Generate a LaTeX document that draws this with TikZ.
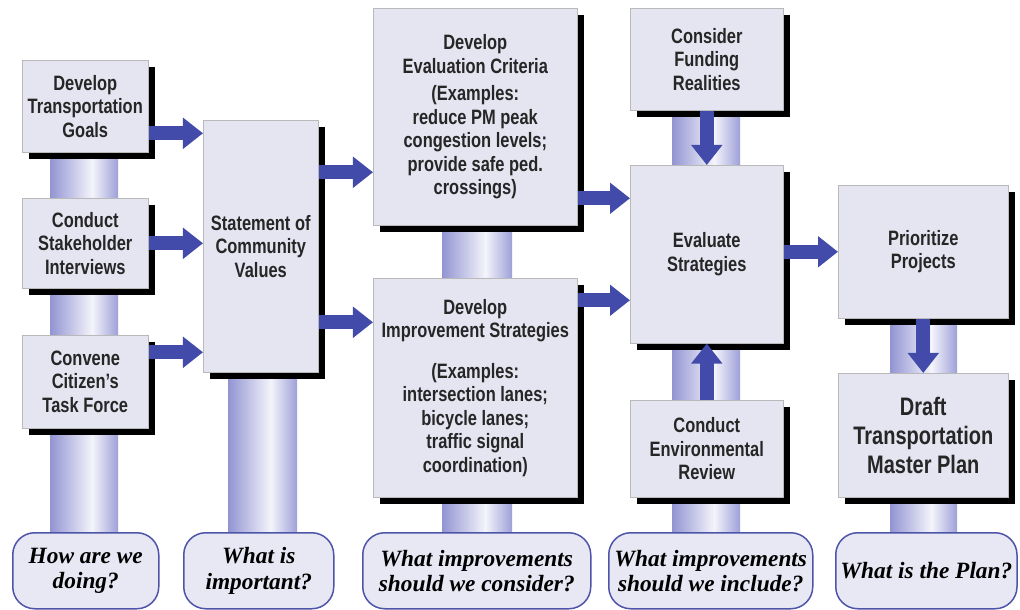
\documentclass[tikz,border=0pt]{standalone}
\usepackage{fontspec}
\setmainfont{Liberation Sans}[FakeStretch=0.79]
\newfontfamily\askfont{Liberation Serif}
\usetikzlibrary{positioning,arrows.meta,shadows,calc}

\newdimen\px \px=0.025cm

\definecolor{boxfill}{RGB}{229,229,241}
\definecolor{flowblue}{RGB}{66,74,170}
\definecolor{askblue}{RGB}{78,84,168}
\definecolor{askfill}{RGB}{232,232,245}
\definecolor{pillarL}{RGB}{146,148,210}
\definecolor{pillarM}{RGB}{244,244,251}
\definecolor{pillarR}{RGB}{158,160,216}

\tikzstyle{stepbox} = [draw=gray!55, line width=0.4pt, fill=boxfill,
                       anchor=north west, align=center, inner sep=1pt,
                       text=black!85,
                       font=\bfseries\fontsize{14.8}{16.7}\selectfont,
                       preaction={fill=black,
                                  transform canvas={xshift=0.18cm, yshift=-0.18cm}}]
\tikzstyle{ask}  = [draw=askblue, line width=1.5\px, fill=askfill,
                    rounded corners=22\px, anchor=north west, align=center,
                    font=\askfont\bfseries\itshape\fontsize{16.6}{18}\selectfont]
\tikzstyle{flow} = [draw=flowblue, line width=0.35cm,
                    -{Triangle[length=0.5cm, width=0.75cm]}]

\begin{document}
\begin{tikzpicture}[x=0.025cm, y=-0.025cm]

   \path[fill=white, use as bounding box] (0,0) rectangle (1020,610);

   % shaded pillars behind each column
   \foreach \xa/\xb/\ya in {50/118/150, 228/297/370, 442/512/222,
                            672/740/108, 890/957/316}
   {
     \shade[left color=pillarL, right color=pillarM]
       (\xa,\ya) rectangle ({\xa+0.62*(\xb-\xa)},533);
     \shade[left color=pillarM, right color=pillarR]
       ({\xa+0.62*(\xb-\xa)},\ya) rectangle (\xb,533);
   }

   % column 1
   \node[stepbox, minimum width=126\px, minimum height=92\px] (goals)
        at (22,60) {Develop\\Transportation\\Goals};
   \node[stepbox, minimum width=126\px, minimum height=90\px] (stake)
        at (22,198) {Conduct\\Stakeholder\\Interviews};
   \node[stepbox, minimum width=126\px, minimum height=93\px] (citizen)
        at (22,335) {Convene\\Citizen’s\\Task Force};

   % column 2
   \node[stepbox, minimum width=115\px, minimum height=252\px] (stmt)
        at (203,120) {Statement of\\Community\\Values};

   % column 3
   \node[stepbox, minimum width=204\px, minimum height=217\px] (crit)
        at (373,8) {Develop\\Evaluation Criteria\\[3pt](Examples:\\reduce PM peak\\congestion levels;\\provide safe ped.\\crossings)};
   \node[stepbox, minimum width=204\px, minimum height=219\px] (impr)
        at (373,278) {Develop\\Improvement Strategies\\[12pt](Examples:\\intersection lanes;\\bicycle lanes;\\traffic signal\\coordination)};

   % column 4
   \node[stepbox, minimum width=153\px, minimum height=102\px] (fund)
        at (630,8) {Consider\\Funding\\Realities};
   \node[stepbox, minimum width=153\px, minimum height=178\px] (evalst)
        at (630,165) {Evaluate\\Strategies};
   \node[stepbox, minimum width=153\px, minimum height=97\px] (env)
        at (630,400) {Conduct\\Environmental\\Review};

   % column 5
   \node[stepbox, minimum width=170\px, minimum height=133\px] (prio)
        at (838,185) {Prioritize\\Projects};
   \node[stepbox, minimum width=170\px, minimum height=124\px,
         font=\bfseries\fontsize{18}{20.5}\selectfont] (draft)
        at (838,373) {Draft\\Transportation\\Master Plan};

   % questions
   \node[ask, minimum width=146\px, minimum height=76\px] (q1)
        at (12,532) {How are we\\doing?};
   \node[ask, minimum width=150\px, minimum height=76\px] (q2)
        at (183,532) {What is\\important?};
   \node[ask, minimum width=228\px, minimum height=76\px] (q3)
        at (362,532) {What improvements\\should we consider?};
   \node[ask, minimum width=204\px, minimum height=76\px] (q4)
        at (608,532) {What improvements\\should we include?};
   \node[ask, minimum width=180\px, minimum height=76\px] (q5)
        at (835,532) {What is the Plan?};

   % flow arrows
   \draw[flow] ([yshift=-27\px]goals.east) -- ([yshift=-27\px]goals.east -| stmt.west);
   \draw[flow] (stake.east) -- (stake.east -| stmt.west);
   \draw[flow] ([yshift=29.5\px]citizen.east) -- ([yshift=29.5\px]citizen.east -| stmt.west);
   \draw[flow] ([yshift=74\px]stmt.east) -- ([yshift=74\px]stmt.east -| crit.west);
   \draw[flow] ([yshift=-76\px]stmt.east) -- ([yshift=-76\px]stmt.east -| impr.west);
   \draw[flow] ([yshift=-81.5\px]crit.east) -- ([yshift=-81.5\px]crit.east -| evalst.west);
   \draw[flow] ([yshift=87.5\px]impr.east) -- ([yshift=87.5\px]impr.east -| evalst.west);
   \draw[flow] (evalst.east |- prio.west) -- (prio.west);
   \draw[flow] (fund.south) -- (evalst.north);
   \draw[flow] (env.north) -- (evalst.south);
   \draw[flow] (prio.south) -- (draft.north);

\end{tikzpicture}
\end{document}
